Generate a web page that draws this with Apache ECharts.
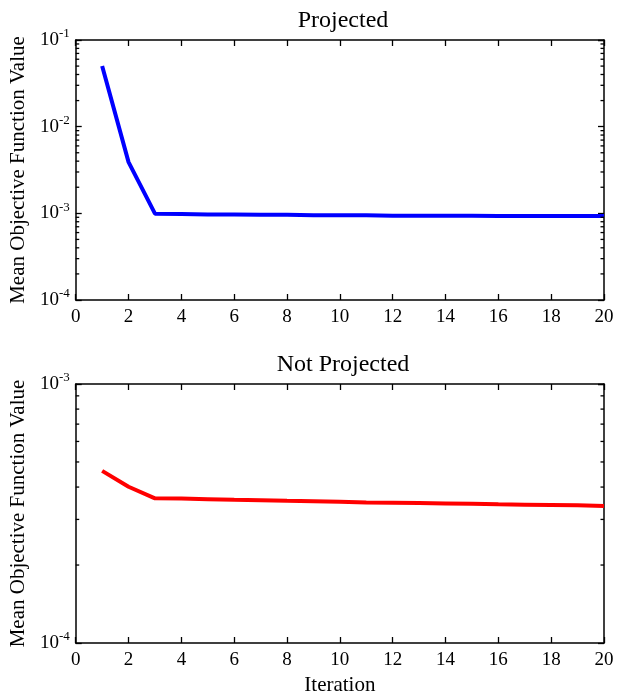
<!DOCTYPE html>
<html>
<head>
<meta charset="utf-8">
<script src="https://cdn.jsdelivr.net/npm/echarts@6/dist/echarts.min.js"></script>
<style>
html,body{margin:0;padding:0;background:#fff;}
#chart{width:624px;height:697px;}
</style>
</head>
<body>
<div id="chart"></div>
<script>
// ---- data ----
var iterations = [1,2,3,4,5,6,7,8,9,10,11,12,13,14,15,16,17,18,19,20];
var projected = [0.050, 0.0039, 0.00099, 0.00098, 0.00097, 0.00097, 0.00096, 0.00096, 0.00095, 0.00095,
                 0.00095, 0.00094, 0.00094, 0.00094, 0.00094, 0.00093, 0.00093, 0.00093, 0.00093, 0.00093];
var notProjected = [4.62e-4, 4.01e-4, 3.62e-4, 3.61e-4, 3.59e-4, 3.57e-4, 3.56e-4, 3.54e-4, 3.53e-4, 3.51e-4,
                    3.49e-4, 3.48e-4, 3.47e-4, 3.46e-4, 3.45e-4, 3.43e-4, 3.42e-4, 3.41e-4, 3.40e-4, 3.38e-4];
var titles = ['Projected', 'Not Projected'];
var yLabel = 'Mean Objective Function Value';
var xLabel = 'Iteration';
var xTickMin = 0, xTickMax = 20, xTickStep = 2;
var topRange = [1e-4, 1e-1];
var bottomRange = [1e-4, 1e-3];

// ---- helpers ----
var FONT = '"Liberation Serif", "DejaVu Serif", serif';
function pairs(xs, ys){ return xs.map(function(x,i){ return [x, ys[i]]; }); }
function minorTicks(range){
  var out = [];
  var lo = Math.round(Math.log10(range[0])), hi = Math.round(Math.log10(range[1]));
  for (var e = lo; e < hi; e++) for (var k = 2; k <= 9; k++) out.push([xTickMin, k * Math.pow(10, e)]);
  return out;
}
function supFmt(v){
  var e = Math.round(Math.log10(v));
  return '{b|10}{s|' + e + '}';
}
var richLbl = {
  b: {fontFamily: FONT, fontSize: 19, color: '#000'},
  s: {fontFamily: FONT, fontSize: 13, color: '#000', padding: [0,0,12,0]}
};
var axisLineStyle = {show: true, onZero: false, lineStyle: {color: '#000', width: 1.5}};
var tickStyle = {show: true, inside: true, length: 6, lineStyle: {color: '#000', width: 1.3}};

function xAxes(gi, showLabel, showName){
  return [{
    type: 'value', gridIndex: gi, position: 'bottom', min: xTickMin, max: xTickMax, interval: xTickStep,
    axisLine: axisLineStyle, axisTick: tickStyle,
    axisLabel: {show: showLabel, fontFamily: FONT, fontSize: 19, color: '#000', margin: 8},
    splitLine: {show: false},
    name: showName ? xLabel : '', nameLocation: 'middle', nameGap: 32,
    nameTextStyle: {fontFamily: FONT, fontSize: 21, color: '#000'}
  },{
    type: 'value', gridIndex: gi, position: 'top', min: xTickMin, max: xTickMax, interval: xTickStep,
    axisLine: axisLineStyle, axisTick: tickStyle,
    axisLabel: {show: false}, splitLine: {show: false}
  }];
}
function yAxes(gi, range){
  return [{
    type: 'log', logBase: 10, gridIndex: gi, position: 'left', min: range[0], max: range[1],
    axisLine: axisLineStyle, axisTick: tickStyle,
    axisLabel: {formatter: supFmt, rich: richLbl, margin: 6},
    splitLine: {show: false}, minorTick: {show: false},
    name: yLabel, nameLocation: 'middle', nameGap: 46, nameRotate: 90,
    nameTextStyle: {fontFamily: FONT, fontSize: 21, color: '#000'}
  },{
    type: 'log', logBase: 10, gridIndex: gi, position: 'right', min: range[0], max: range[1],
    axisLine: axisLineStyle, axisTick: tickStyle,
    axisLabel: {show: false}, splitLine: {show: false}
  }];
}
function minorSeries(xi, yi, range){
  return {
    type: 'custom', xAxisIndex: xi, yAxisIndex: yi, silent: true, clip: false, z: 10,
    data: minorTicks(range),
    renderItem: function(params, api){
      var v = api.value(1);
      var pl = api.coord([xTickMin, v]);
      var pr = api.coord([xTickMax, v]);
      return {type: 'group', children: [
        {type: 'line', shape: {x1: pl[0], y1: pl[1], x2: pl[0] + 3.5, y2: pl[1]}, style: {stroke: '#000', lineWidth: 1.3}},
        {type: 'line', shape: {x1: pr[0] - 3.5, y1: pr[1], x2: pr[0], y2: pr[1]}, style: {stroke: '#000', lineWidth: 1.3}}
      ]};
    }
  };
}

var xa = xAxes(0, true, false).concat(xAxes(1, true, true));
var ya = yAxes(0, topRange).concat(yAxes(1, bottomRange));

var option = {
  backgroundColor: '#fff',
  animation: false,
  title: [
    {text: titles[0], left: 338, textAlign: 'center', top: 4, textStyle: {fontFamily: FONT, fontSize: 24, fontWeight: 'normal', color: '#000'}},
    {text: titles[1], left: 338, textAlign: 'center', top: 348, textStyle: {fontFamily: FONT, fontSize: 24, fontWeight: 'normal', color: '#000'}}
  ],
  grid: [
    {left: 72, top: 40, width: 532, height: 260},
    {left: 72, top: 384, width: 532, height: 259}
  ],
  xAxis: xa,
  yAxis: ya,
  series: [
    {type: 'line', xAxisIndex: 0, yAxisIndex: 0, data: pairs(iterations, projected), showSymbol: false,
     lineStyle: {color: '#0000ff', width: 4}, itemStyle: {color: '#0000ff'}},
    {type: 'line', xAxisIndex: 2, yAxisIndex: 2, data: pairs(iterations, notProjected), showSymbol: false,
     lineStyle: {color: '#ff0000', width: 4}, itemStyle: {color: '#ff0000'}},
    minorSeries(0, 0, topRange),
    minorSeries(2, 2, bottomRange)
  ]
};
var chart = echarts.init(document.getElementById('chart'), null, {renderer: 'canvas'});
chart.setOption(option);
</script>
</body>
</html>
